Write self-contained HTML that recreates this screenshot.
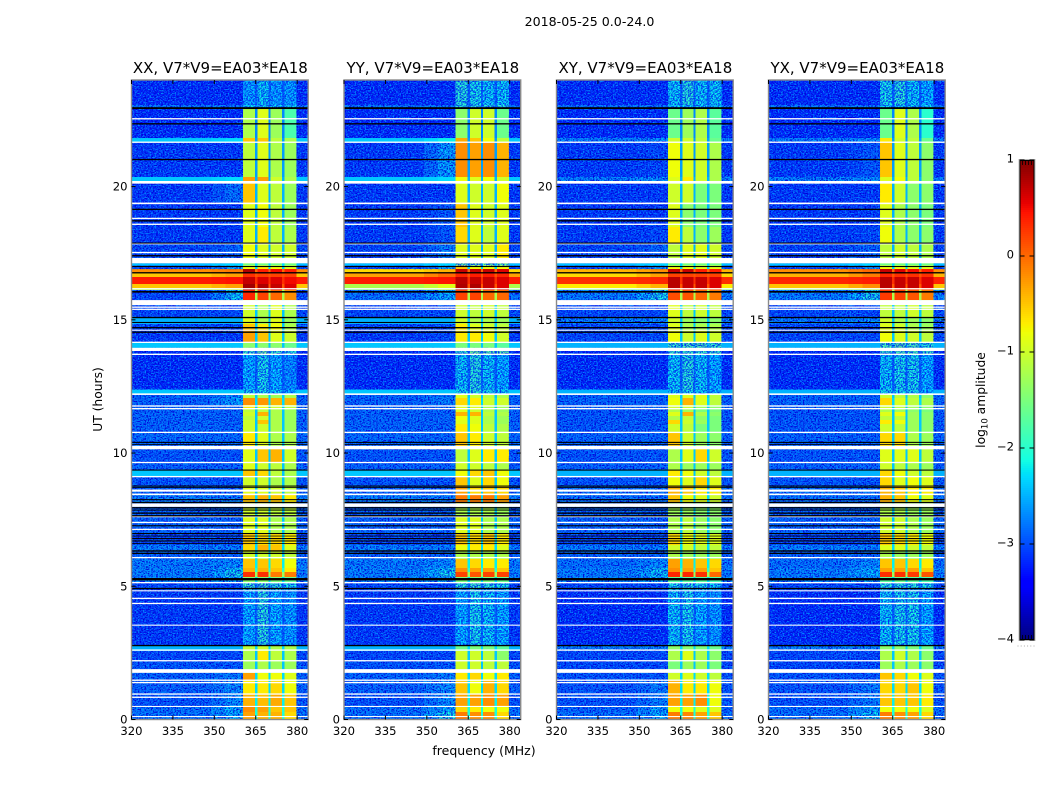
<!DOCTYPE html>
<html>
<head>
<meta charset="utf-8">
<title>2018-05-25 0.0-24.0</title>
<style>
html,body{margin:0;padding:0;background:#fff;width:1050px;height:800px;overflow:hidden}
svg{display:block}
text{font-family:"DejaVu Sans","Liberation Sans",sans-serif;fill:#000}
</style>
</head>
<body>
<svg id="fig" xmlns="http://www.w3.org/2000/svg" width="1050" height="800" viewBox="0 0 1050 800">
  <defs>
    <filter id="off-noise" x="0" y="0" width="1" height="1" color-interpolation-filters="sRGB">
      <feTurbulence type="fractalNoise" baseFrequency="0.6 0.75" numOctaves="2" seed="4" result="n"/>
      <feColorMatrix in="n" type="matrix" values="0 0 0 0 0  0 0 0 0 0  0 0 0 0 0.85  4.5 0 0 0 -1.9" result="dark"/>
      <feColorMatrix in="n" type="matrix" values="0 0 0 0 0  0 0 0 0 0.55  0 0 0 0 1  0 4.5 0 0 -2.2" result="light"/>
      <feMerge result="m"><feMergeNode in="dark"/><feMergeNode in="light"/></feMerge>
      <feComposite in="m" in2="SourceAlpha" operator="in"/>
    </filter>
    <filter id="band-noise" x="0" y="0" width="1" height="1" color-interpolation-filters="sRGB">
      <feTurbulence type="fractalNoise" baseFrequency="0.6 0.75" numOctaves="2" seed="9" result="n"/>
      <feColorMatrix in="n" type="matrix" values="0 0 0 0 0  0 0 0 0 0.2  0 0 0 0 0.95  4 0 0 0 -1.55"/>
      <feComposite in2="SourceAlpha" operator="in"/>
    </filter>
  </defs>
  <text x="589.5" y="26" font-size="12.6" text-anchor="middle">2018-05-25 0.0-24.0</text>
  <text x="0" y="0" font-size="12.3" text-anchor="middle" transform="translate(102,399.5) rotate(-90)">UT (hours)</text>
  <text x="484" y="755" font-size="12.5" text-anchor="middle">frequency (MHz)</text>
  <text x="0" y="0" font-size="12.3" text-anchor="middle" transform="translate(985,400) rotate(-90)">log<tspan font-size="8.5" dy="2.5">10</tspan><tspan dy="-2.5"> amplitude</tspan></text>
  <g id="panels"></g>
  <g id="colorbar"></g>
</svg>
<script>
// ---- chart data (log10 amplitude, frequency in MHz, time in UT hours) ----
const panelTitles = ["XX, V7*V9=EA03*EA18","YY, V7*V9=EA03*EA18","XY, V7*V9=EA03*EA18","YX, V7*V9=EA03*EA18"];
const xTicks = [320,335,350,365,380];
const yTicks = [0,5,10,15,20];
const colorbarTicks = [1,0,-1,-2,-3,-4];
const freqEdges = [320,349,354,360.4,364.8,365.6,369.7,370.4,374.6,375.5,379.7,384];
const rowEdges = [24,23.06,22.94,21.82,21.67,20.36,20.13,19.34,18.48,17.88,17.32,17.12,17.03,16.9,16.77,16.6,16.34,16.19,16.12,15.74,15.55,15.1,14.84,14.62,14.13,13.95,13.68,12.38,12.23,12.06,11.8,11.65,11.54,11.39,11.24,11.09,10.75,10.3,10.15,9.66,9.36,9.1,8.76,8.42,8.12,7.97,7.64,7,6.55,6.32,6.02,5.68,5.53,5.35,5.12,4.86,2.79,2.57,2.2,1.74,1.48,0.96,0.51,0.28,0];
const gapLevels = [-2.8,-2.7,-2.7,-2.6,-2.6,-2.5,-2.5,-2.5,-2.5,-2.5,-2.5,-2.3,-2.3,0,0.1,0.3,0.1,-0.2,-1.2,-2.4,-2.4,-2.4,-2.4,-2.4,-2.4,-2.8,-2.8,-2.6,-2.4,-2.3,-2.4,-2.4,-2.4,-2.4,-2.4,-2.4,-2.4,-2.4,-2.4,-2.4,-2.4,-2.4,-2.4,-2.3,-2.4,-2.4,-2.4,-2.3,-2.3,-2.4,-2.2,-2.0,-1.3,-2.3,-2.7,-2.8,-2.3,-2.4,-2.4,-2.3,-2.3,-2.2,-2.1,-2.1];
// flagged intervals [start hour, end hour]
const whiteFlags = [[22.52,22.57],[21.64,21.69],[20.11,20.21],[19.34,19.4],[18.78,18.83],[18.56,18.61],[17.83,17.88],[17.5,17.55],[17.12,17.32],[16.14,16.19],[15.55,15.74],[15.45,15.5],[15.37,15.42],[14.59,14.63],[14.13,14.18],[13.83,13.95],[13.68,13.73],[12.18,12.24],[11.74,11.79],[11.64,11.69],[10.75,10.8],[10.14,10.27],[9.62,9.67],[9.09,9.14],[8.55,8.63],[8.42,8.48],[7.98,8.11],[7.59,7.64],[7.37,7.42],[7.11,7.16],[6.05,6.1],[5.11,5.16],[4.81,4.85],[4.52,4.57],[4.33,4.38],[3.52,3.56],[2.58,2.63],[2.18,2.23],[1.75,1.89],[1.45,1.5],[1.36,1.41],[0.93,0.98],[0.81,0.86],[0.47,0.51],[0.09,0.13]];
const blackFlags = [[22.91,22.98],[22.33,22.38],[20.99,21.04],[19.12,19.17],[18.69,18.74],[17.86,17.9],[17.38,17.43],[16.98,17.02],[16.74,16.79],[16.02,16.08],[15.06,15.11],[14.88,14.92],[14.68,14.73],[14.51,14.56],[10.38,10.42],[10.31,10.34],[9.34,9.38],[8.74,8.78],[8.69,8.72],[8.23,8.27],[8.12,8.17],[7.92,7.97],[7.84,7.88],[7.72,7.77],[7.62,7.67],[7.25,7.29],[6.96,7],[6.87,6.9],[6.77,6.81],[6.68,6.72],[6.59,6.62],[6.3,6.35],[6.21,6.26],[5.22,5.31],[4.89,4.94],[2.75,2.8]];
// per time-row levels: [off-band, ramp, sub-band 1, sub-band 2, sub-band 3, sub-band 4]
const levelsXX = [
[-3.2,-3.2,-2.4,-2.2,-2.4,-2.4],[-2.7,-2.7,-2.2,-2.2,-2.2,-2.2],[-3.2,-3.2,-1.2,-0.9,-1.3,-1.8],[-2.4,-2.3,-0.5,-0.5,-1.1,-1.2],[-3.1,-3.1,-1.1,-0.9,-1.2,-1.3],[-2.4,-2.3,-0.3,-0.3,-1.0,-1.2],[-3.1,-2.7,-0.5,-0.9,-1.1,-1.3],[-3.1,-3.1,-0.9,-0.8,-1.1,-1.3],[-3.1,-3.1,-0.9,-0.7,-1.1,-1.2],[-3.0,-2.8,-0.8,-0.9,-1.0,-1.0],
[-3.0,-2.8,-0.8,-0.9,-1.0,-1.0],[-2.4,-2.3,-1.6,-1.6,-1.6,-1.6],[-3.0,-2.4,-0.8,-0.7,-0.8,-0.9],[-0.2,-0.1,0.8,0.4,0.5,0.4],[-0.5,-0.3,0.3,0.2,0.2,0.2],[0.4,0.45,0.7,0.6,0.6,0.5],[-0.5,-0.3,0.85,0.8,0.7,0.6],[-1.2,-1.0,0.8,0.7,0.6,0.5],[-3.0,-2.2,0.35,0.2,0.0,-0.2],[-3.0,-3.0,-1.0,-1.2,-0.9,-1.2],
[-3.0,-3.0,-1.0,-1.2,-0.9,-1.2],[-2.5,-2.5,-0.9,-1.2,-0.9,-1.3],[-3.0,-3.0,-0.5,-0.7,-0.8,-1.2],[-3.1,-3.1,-0.3,-0.5,-0.9,-1.0],[-2.4,-2.4,-1.4,-1.4,-1.4,-1.6],[-3.2,-3.2,-1.9,-1.6,-1.9,-2.0],[-3.2,-3.2,-2.3,-2.1,-2.3,-2.5],[-2.4,-2.4,-2.1,-2.1,-2.2,-2.3],[-2.8,-2.5,-1.1,-1.2,-1.3,-1.2],[-2.8,-2.4,-0.2,-0.25,-0.4,-0.4],
[-2.8,-2.8,-0.7,-0.8,-1.0,-1.1],[-2.8,-2.8,-1.1,-1.1,-1.2,-1.3],[-2.8,-2.8,-1.0,-0.4,-1.2,-1.3],[-2.8,-2.8,-1.1,-1.0,-1.2,-1.3],[-2.8,-2.8,-1.0,-0.5,-1.2,-1.3],[-2.8,-2.8,-1.0,-1.0,-1.2,-1.3],[-2.75,-2.75,-0.7,-0.9,-1.2,-1.2],[-2.75,-2.75,-0.7,-0.9,-1.2,-1.2],[-2.9,-2.9,-0.9,-0.5,-0.4,-1.0],[-2.8,-2.8,-0.9,-1.0,-1.1,-1.2],
[-2.4,-2.4,-0.5,-0.6,-1.1,-1.2],[-2.9,-2.9,-1.0,-1.0,-1.2,-1.2],[-2.8,-2.8,-0.9,-0.9,-1.0,-1.1],[-2.6,-2.6,-0.5,-0.4,-0.5,-0.7],[-2.8,-2.8,-1.0,-1.0,-1.1,-1.1],[-2.8,-2.8,-1.0,-1.0,-1.1,-1.1],[-2.8,-2.8,-0.9,-0.9,-1.2,-1.2],[-3.0,-3.0,-0.5,-0.6,-0.6,-0.7],[-2.6,-2.6,-0.6,-0.4,-0.5,-0.9],[-2.8,-2.8,-1.0,-1.0,-1.0,-1.1],
[-2.6,-2.5,-0.5,-0.5,-0.6,-0.8],[-2.6,-2.2,-0.4,-0.4,-0.5,-0.7],[-2.6,-2.1,0.3,0.3,-0.1,-0.1],[-2.6,-2.3,-1.4,-1.4,-1.5,-1.6],[-3.0,-3.0,-1.9,-1.8,-2.0,-2.1],[-3.1,-3.1,-2.3,-2.0,-2.3,-2.4],[-2.5,-2.5,-1.1,-1.0,-1.2,-1.2],[-3.0,-3.0,-1.2,-0.7,-1.1,-1.2],[-2.9,-2.9,-1.3,-1.2,-1.3,-1.3],[-2.8,-2.6,-0.3,-0.8,-0.8,-0.9],
[-2.8,-2.5,-0.7,-0.7,-0.6,-0.8],[-2.9,-2.5,-0.4,-0.45,-0.35,-0.5],[-2.7,-2.3,-0.2,-0.3,-0.5,-0.5],[-2.7,-2.3,-0.3,-0.4,-0.4,-0.6]];
const levelsYY = [
[-3.2,-3.2,-2.0,-2.1,-2.2,-2.2],[-2.7,-2.7,-2.0,-2.0,-2.0,-2.0],[-3.2,-3.2,-1.4,-1.0,-1.0,-1.6],[-2.4,-2.2,-0.35,-0.5,-0.8,-1.1],[-3.1,-2.4,-0.2,-0.3,-0.2,-0.4],[-2.4,-2.3,-0.8,-0.9,-0.8,-1.0],[-3.1,-3.1,-0.9,-1.0,-1.0,-0.8],[-3.1,-2.9,-0.5,-0.9,-1.0,-0.9],[-3.1,-2.9,-0.6,-0.9,-1.1,-0.9],[-3.0,-2.6,-0.9,-0.9,-0.9,-0.7],
[-3.0,-2.6,-0.9,-0.9,-0.9,-0.7],[-2.4,-2.3,-1.8,-1.8,-1.8,-1.8],[-3.0,-2.4,-0.5,-0.8,-0.8,-0.8],[-0.6,-0.4,0.7,0.7,0.7,0.6],[-0.3,0.0,0.35,0.4,0.4,0.35],[0.4,0.45,0.75,0.7,0.7,0.6],[-1.2,-0.9,0.8,0.8,0.7,0.6],[-1.5,-1.2,0.7,0.7,0.6,0.6],[-2.7,-2.3,0.2,0.2,0.0,0.0],[-3.0,-3.0,-1.0,-1.1,-1.0,-1.1],
[-3.0,-3.0,-1.0,-1.1,-1.0,-1.1],[-2.5,-2.5,-1.0,-1.2,-1.2,-1.3],[-3.0,-3.0,-0.7,-0.9,-1.0,-1.1],[-3.1,-3.0,-0.7,-0.7,-0.8,-1.0],[-2.4,-2.4,-1.5,-1.5,-1.5,-1.7],[-3.2,-3.2,-1.9,-1.6,-1.7,-1.7],[-3.2,-3.2,-2.2,-2.0,-2.2,-2.3],[-2.4,-2.4,-2.1,-2.0,-2.1,-2.2],[-2.8,-2.6,-0.9,-1.0,-1.1,-1.2],[-2.8,-2.6,-0.6,-0.7,-1.0,-1.0],
[-2.8,-2.8,-0.9,-0.9,-1.2,-1.3],[-2.8,-2.8,-0.9,-1.0,-1.2,-1.3],[-2.8,-2.8,-0.4,-0.4,-1.1,-1.2],[-2.8,-2.8,-0.8,-0.9,-1.2,-1.3],[-2.8,-2.8,-0.9,-0.9,-1.2,-1.3],[-2.8,-2.8,-0.7,-0.8,-1.1,-1.2],[-2.75,-2.75,-0.5,-0.7,-1.0,-1.1],[-2.75,-2.75,-0.5,-0.7,-1.0,-1.1],[-2.9,-2.9,-1.1,-0.9,-0.7,-0.7],[-2.8,-2.8,-1.0,-1.0,-1.1,-1.2],
[-2.4,-2.4,-0.8,-0.6,-0.5,-0.8],[-2.9,-2.9,-0.5,-0.9,-0.6,-0.8],[-2.8,-2.8,-0.3,-0.6,-0.5,-0.6],[-2.6,-2.6,-0.1,-0.1,-0.1,-0.3],[-2.8,-2.8,-1.0,-1.0,-1.0,-1.1],[-2.8,-2.8,-1.2,-1.2,-1.2,-1.3],[-2.8,-2.8,-0.9,-0.9,-1.2,-1.2],[-3.0,-3.0,-0.5,-0.6,-0.5,-0.7],[-2.6,-2.6,-0.8,-0.7,-0.7,-0.9],[-2.8,-2.8,-1.2,-1.2,-1.2,-1.2],
[-2.6,-2.5,-0.5,-0.6,-0.7,-0.7],[-2.6,-2.2,-0.2,-0.3,-0.3,-0.5],[-2.6,-2.1,0.2,0.1,0.2,0.2],[-2.6,-2.3,-1.5,-1.5,-1.5,-1.6],[-3.0,-3.0,-2.0,-1.9,-2.0,-2.1],[-3.1,-3.1,-2.3,-2.1,-2.2,-2.3],[-2.5,-2.5,-1.6,-1.5,-1.5,-1.7],[-3.0,-3.0,-1.0,-1.0,-1.1,-1.4],[-2.9,-2.9,-1.0,-1.0,-1.1,-1.1],[-2.8,-2.6,-0.7,-0.6,-0.8,-0.7],
[-2.8,-2.5,-0.5,-0.8,-0.4,-0.6],[-2.9,-2.5,-0.3,-0.3,-0.2,-0.3],[-2.7,-2.3,-0.6,-0.7,-0.8,-0.8],[-2.7,-2.1,-0.1,-0.2,-0.2,-0.6]];
const levelsXY = [
[-3.2,-3.2,-2.2,-2.0,-2.2,-2.2],[-2.7,-2.7,-2.2,-2.2,-2.2,-2.2],[-3.2,-3.2,-1.6,-1.3,-1.2,-1.7],[-2.6,-2.5,-1.0,-1.0,-1.1,-1.6],[-3.1,-3.0,-0.8,-0.9,-1.0,-1.2],[-2.6,-2.5,-0.9,-0.7,-1.0,-1.2],[-3.1,-3.1,-1.0,-1.0,-1.5,-1.5],[-3.1,-3.1,-0.9,-1.4,-1.5,-1.5],[-3.1,-3.0,-0.7,-1.1,-1.4,-1.3],[-3.0,-2.8,-1.1,-0.9,-0.9,-1.0],
[-3.0,-2.8,-1.1,-0.9,-0.9,-1.0],[-2.4,-2.3,-1.6,-1.6,-1.6,-1.6],[-3.0,-2.5,-0.8,-0.8,-0.9,-0.9],[-0.4,-0.2,0.7,0.7,0.4,0.4],[-0.6,-0.3,0.2,0.2,0.2,0.2],[0.3,0.35,0.75,0.7,0.7,0.6],[-0.7,-0.4,0.75,0.7,0.7,0.6],[-1.5,-1.2,0.4,0.4,0.3,0.2],[-2.6,-2.1,0.15,0.1,0.0,-0.1],[-3.0,-3.0,-0.9,-1.1,-1.0,-1.1],
[-3.0,-3.0,-0.9,-1.1,-1.0,-1.1],[-2.6,-2.5,-1.0,-1.3,-1.4,-1.4],[-3.0,-3.0,-0.9,-1.2,-1.2,-1.2],[-3.0,-3.0,-0.8,-1.0,-0.9,-1.0],[-2.5,-2.5,-1.9,-1.8,-1.8,-1.9],[-3.2,-3.2,-1.9,-1.9,-1.9,-1.9],[-3.2,-3.2,-2.2,-2.0,-2.2,-2.3],[-2.5,-2.5,-2.2,-2.1,-2.2,-2.3],[-2.8,-2.8,-0.9,-0.9,-0.9,-1.1],[-2.8,-2.8,-0.8,-0.4,-0.9,-1.1],
[-2.8,-2.8,-1.0,-1.0,-1.3,-1.4],[-2.9,-2.9,-1.2,-1.3,-1.5,-1.5],[-2.9,-2.9,-0.9,-0.4,-1.2,-1.4],[-2.9,-2.9,-1.2,-1.1,-1.4,-1.5],[-2.9,-2.9,-0.6,-1.0,-1.3,-1.5],[-2.9,-2.9,-1.0,-1.1,-1.5,-1.5],[-2.8,-2.8,-0.5,-1.0,-1.3,-1.4],[-2.8,-2.8,-0.5,-1.0,-1.3,-1.4],[-2.9,-2.9,-1.2,-0.9,-0.6,-1.0],[-2.8,-2.8,-1.2,-1.3,-1.3,-1.3],
[-2.5,-2.5,-0.7,-0.8,-1.0,-1.1],[-2.9,-2.9,-0.8,-0.9,-0.6,-0.9],[-2.7,-2.7,-0.4,-0.5,-0.7,-0.7],[-2.7,-2.7,-0.5,-0.8,-0.9,-1.0],[-2.8,-2.8,-1.3,-1.3,-1.4,-1.4],[-2.8,-2.8,-1.3,-1.3,-1.4,-1.4],[-2.8,-2.8,-1.2,-1.1,-1.3,-1.4],[-3.0,-3.0,-0.6,-0.8,-0.9,-0.9],[-2.6,-2.6,-1.0,-1.0,-1.1,-1.1],[-2.8,-2.8,-1.2,-1.3,-1.3,-1.3],
[-2.7,-2.5,-0.3,-0.4,-0.5,-0.6],[-2.6,-2.2,-0.2,-0.3,-0.3,-0.5],[-2.6,-2.2,0.35,0.35,0.3,0.0],[-2.6,-2.3,-1.7,-1.7,-1.7,-1.8],[-3.0,-3.0,-2.1,-2.0,-2.1,-2.2],[-3.2,-3.2,-2.2,-2.1,-2.3,-2.4],[-2.6,-2.6,-1.4,-1.4,-1.5,-1.6],[-3.0,-3.0,-1.2,-0.9,-1.2,-1.4],[-3.0,-3.0,-1.5,-1.3,-1.3,-1.5],[-2.9,-2.9,-1.0,-0.9,-1.0,-1.1],
[-2.9,-2.6,-0.4,-0.7,-0.7,-0.8],[-2.9,-2.6,-0.3,-0.3,-0.2,-0.8],[-2.8,-2.4,-0.8,-0.8,-0.9,-0.9],[-2.7,-2.3,-0.1,-0.15,-0.3,-0.5]];
const levelsYX = [
[-3.2,-3.2,-2.1,-2.0,-2.2,-2.3],[-2.7,-2.7,-2.2,-2.2,-2.2,-2.2],[-3.2,-3.2,-1.6,-0.9,-1.2,-2.0],[-2.6,-2.5,-0.7,-1.0,-1.1,-1.6],[-3.1,-2.9,-0.5,-0.9,-1.1,-1.4],[-2.6,-2.5,-0.9,-0.8,-1.1,-1.4],[-3.1,-3.1,-0.7,-1.0,-1.4,-1.4],[-3.1,-3.1,-0.9,-1.2,-1.4,-1.5],[-3.1,-3.0,-0.8,-1.2,-1.4,-1.4],[-3.0,-2.8,-1.1,-1.0,-1.1,-1.2],
[-3.0,-2.8,-1.1,-1.0,-1.1,-1.2],[-2.4,-2.3,-1.6,-1.6,-1.6,-1.6],[-3.0,-2.5,-0.8,-0.8,-0.9,-0.9],[-0.2,0.0,0.7,0.6,0.5,0.4],[-0.4,-0.1,0.35,0.3,0.3,0.3],[0.35,0.4,0.75,0.7,0.7,0.6],[-0.5,-0.2,0.75,0.7,0.7,0.6],[-1.4,-1.1,0.4,0.4,0.3,0.2],[-2.6,-2.1,0.25,0.2,0.1,-0.1],[-3.0,-3.0,-1.1,-1.1,-1.0,-1.1],
[-3.0,-3.0,-1.1,-1.1,-1.0,-1.1],[-2.6,-2.5,-1.0,-1.2,-1.3,-1.4],[-3.0,-3.0,-0.9,-1.0,-1.2,-1.3],[-3.0,-3.0,-0.8,-0.9,-1.0,-1.1],[-2.5,-2.5,-1.8,-1.7,-1.8,-2.0],[-3.2,-3.2,-1.9,-1.8,-1.8,-1.9],[-3.2,-3.2,-2.2,-2.1,-2.1,-2.3],[-2.5,-2.5,-2.1,-2.1,-2.1,-2.3],[-2.8,-2.8,-1.0,-1.1,-1.2,-1.4],[-2.8,-2.8,-0.6,-0.9,-1.1,-1.2],
[-2.8,-2.8,-1.0,-1.1,-1.3,-1.4],[-2.9,-2.9,-1.2,-1.3,-1.4,-1.5],[-2.9,-2.9,-0.9,-0.8,-1.3,-1.4],[-2.9,-2.9,-1.1,-1.1,-1.3,-1.4],[-2.9,-2.9,-0.7,-0.8,-1.3,-1.4],[-2.9,-2.9,-1.0,-1.1,-1.3,-1.4],[-2.8,-2.8,-0.6,-0.6,-1.2,-1.3],[-2.8,-2.8,-0.6,-0.6,-1.2,-1.3],[-2.9,-2.9,-0.9,-0.9,-0.9,-1.1],[-2.8,-2.8,-1.0,-1.1,-1.2,-1.3],
[-2.5,-2.5,-0.6,-0.8,-1.0,-1.1],[-2.9,-2.9,-0.6,-0.9,-0.8,-0.9],[-2.7,-2.7,-0.4,-0.5,-0.7,-0.7],[-2.7,-2.7,-0.4,-0.5,-0.8,-0.9],[-2.8,-2.8,-1.2,-1.2,-1.3,-1.3],[-2.8,-2.8,-1.2,-1.2,-1.3,-1.3],[-2.8,-2.8,-1.0,-1.0,-1.2,-1.3],[-3.0,-3.0,-0.5,-0.6,-0.7,-0.8],[-2.6,-2.6,-0.9,-0.9,-1.0,-1.1],[-2.8,-2.8,-1.2,-1.3,-1.3,-1.3],
[-2.7,-2.5,-0.5,-0.5,-0.6,-0.7],[-2.6,-2.3,-0.3,-0.3,-0.3,-0.5],[-2.6,-2.3,0.3,0.3,0.25,0.1],[-2.6,-2.3,-1.7,-1.6,-1.7,-1.8],[-3.0,-3.0,-2.0,-2.0,-2.0,-2.1],[-3.2,-3.2,-2.2,-2.1,-2.1,-2.3],[-2.6,-2.6,-1.4,-1.4,-1.5,-1.6],[-3.0,-3.0,-1.2,-1.0,-1.2,-1.4],[-3.0,-3.0,-1.3,-1.2,-1.3,-1.4],[-2.9,-2.9,-0.5,-0.6,-0.8,-0.9],
[-2.9,-2.6,-0.6,-0.6,-0.5,-0.8],[-2.9,-2.6,-0.5,-0.5,-0.5,-0.7],[-2.7,-2.3,-0.8,-0.8,-0.8,-0.9],[-2.7,-2.2,-0.1,-0.2,-0.3,-0.6]];
const panelLevels = [levelsXX,levelsYY,levelsXY,levelsYX];
const panelLefts = [131.5,344,556.5,768.5];

// ---- scales ----
const NS = "http://www.w3.org/2000/svg";
const plotWidth = 176.7, plotTop = 80, plotBottom = 719.5;
function xScale(freq, left){ return left + (freq-320)/64*plotWidth; }
function yScale(hour){ return plotBottom - hour/24*(plotBottom-plotTop); }
function lerpStops(stops, t){
  for(let i=1;i<stops.length;i++){
    if(t<=stops[i][0]){
      const a=stops[i-1], b=stops[i];
      return a[1]+(b[1]-a[1])*(t-a[0])/(b[0]-a[0]);
    }
  }
  return stops[stops.length-1][1];
}
const jetR=[[0,0],[0.35,0],[0.66,1],[0.89,1],[1,0.5]];
const jetG=[[0,0],[0.125,0],[0.375,1],[0.64,1],[0.91,0],[1,0]];
const jetB=[[0,0.5],[0.11,1],[0.34,1],[0.65,0],[1,0]];
function jet(level){
  const t=Math.max(0,Math.min(1,(level+4)/5));
  const c=[jetR,jetG,jetB].map(s=>Math.round(255*lerpStops(s,t)));
  return "rgb("+c.join(",")+")";
}
function mk(tag, attrs){
  const el=document.createElementNS(NS,tag);
  for(const k in attrs) el.setAttribute(k,attrs[k]);
  return el;
}

// ---- panels ----
const panelsRoot=document.getElementById("panels");
panelTitles.forEach((title,p)=>{
  const left=panelLefts[p], levels=panelLevels[p], right=left+plotWidth;
  const g=mk("g",{});
  
  
  panelsRoot.appendChild(g);
  const cells=mk("g",{"shape-rendering":"crispEdges"});
  
  
  g.appendChild(cells);
  levels.forEach((row,r)=>{
    const off=row[0], ramp=row[1], gap=gapLevels[r];
    const cols=[off,(off+ramp)/2,ramp,row[2],gap,row[3],gap,row[4],gap,row[5],off];
    const y0=yScale(rowEdges[r]), y1=yScale(rowEdges[r+1]);
    cols.forEach((lv,c)=>{
      const x0=xScale(freqEdges[c],left), x1=xScale(freqEdges[c+1],left);
      const cell=mk("rect",{x:x0,y:y0,width:x1-x0,height:y1-y0,fill:jet(lv)});
      
      
      cells.appendChild(cell);
    });
  });
  // receiver-noise texture over quiet rows
  const noiseOff=mk("g",{filter:"url(#off-noise)"});
  
  
  const noiseBand=mk("g",{filter:"url(#band-noise)"});
  
  
  levels.forEach((row,r)=>{
    const y0=yScale(rowEdges[r]), y1=yScale(rowEdges[r+1]);
    if(row[0]<=-2.6){
      [[320,360.4],[379.7,384]].forEach(span=>{
        noiseOff.appendChild(mk("rect",{x:xScale(span[0],left),y:y0,width:xScale(span[1],left)-xScale(span[0],left),height:y1-y0,fill:"#000"}));
      });
    }
    if(row[2]<=-1.8){
      noiseBand.appendChild(mk("rect",{x:xScale(360.4,left),y:y0,width:xScale(379.7,left)-xScale(360.4,left),height:y1-y0,fill:"#000"}));
    }
  });
  g.appendChild(noiseOff);
  g.appendChild(noiseBand);
  // flagged rows
  whiteFlags.forEach(f=>{
    const el=mk("rect",{x:left,y:yScale(f[1]),width:plotWidth,height:yScale(f[0])-yScale(f[1]),fill:"#fff"});
    
    
    g.appendChild(el);
  });
  blackFlags.forEach(f=>{
    const el=mk("rect",{x:left,y:yScale(f[1]),width:plotWidth,height:yScale(f[0])-yScale(f[1]),fill:"#000"});
    
    
    g.appendChild(el);
  });
  // frame
  const frame=mk("rect",{x:left,y:plotTop,width:plotWidth,height:plotBottom-plotTop,fill:"none",stroke:"#8a8a8a","stroke-width":1.4});
  
  
  g.appendChild(frame);
  // ticks
  xTicks.forEach(v=>{
    const x=xScale(v,left);
    [[plotBottom,plotBottom-4],[plotTop,plotTop+4]].forEach(s=>{
      const t=mk("line",{x1:x,x2:x,y1:s[0],y2:s[1],stroke:"#000","stroke-width":1});
      
      
      g.appendChild(t);
    });
    const lab=mk("text",{x:x,y:735,"font-size":"11.6","text-anchor":"middle"});
    
    
    lab.textContent=v;
    g.appendChild(lab);
  });
  yTicks.forEach(v=>{
    const y=yScale(v);
    [[left,left+4],[right,right-4]].forEach(s=>{
      const t=mk("line",{x1:s[0],x2:s[1],y1:y,y2:y,stroke:"#000","stroke-width":1});
      
      
      g.appendChild(t);
    });
    const lab=mk("text",{x:left-4,y:y+4,"font-size":"11.6","text-anchor":"end"});
    
    
    lab.textContent=v;
    g.appendChild(lab);
  });
  const ttl=mk("text",{x:left+plotWidth/2+0.5,y:73,"font-size":"15","text-anchor":"middle"});
  
  
  ttl.textContent=title;
  g.appendChild(ttl);
});

// ---- colorbar ----
const cb=document.getElementById("colorbar");
const cbLeft=1019.5, cbRight=1034.5, cbTop=160, cbBottom=640;
function cbY(level){ return cbBottom-(level+4)/5*(cbBottom-cbTop); }
const cbFill=mk("g",{"shape-rendering":"crispEdges"});


cb.appendChild(cbFill);
for(let i=0;i<240;i++){
  const lv=-4+5*(i+0.5)/240;
  const s=mk("rect",{x:cbLeft,y:cbY(-4+5*(i+1)/240),width:cbRight-cbLeft,height:2.1,fill:jet(lv)});
  
  
  cbFill.appendChild(s);
}
const cbFrameOuter=mk("rect",{x:cbLeft-0.5,y:cbTop-0.5,width:cbRight-cbLeft+1,height:cbBottom-cbTop+1,fill:"none",stroke:"#bbb","stroke-width":1});


cb.appendChild(cbFrameOuter);
const cbFrame=mk("rect",{x:cbLeft+0.5,y:cbTop+0.5,width:cbRight-cbLeft-1,height:cbBottom-cbTop-1,fill:"none",stroke:"#000","stroke-width":1});


cb.appendChild(cbFrame);
colorbarTicks.forEach(v=>{
  const y=cbY(v);
  [[cbLeft,cbLeft+5],[cbRight,cbRight-5]].forEach(s=>{
    const t=mk("line",{x1:s[0],x2:s[1],y1:y,y2:y,stroke:"#000","stroke-width":1});
    
    
    cb.appendChild(t);
  });
  const lab=mk("text",{x:1014,y:y+2.5,"font-size":"11.6","text-anchor":"end"});
  
  
  lab.textContent=v<0?"\u2212"+Math.abs(v):String(v);
  cb.appendChild(lab);
});
[1,-4].forEach(v=>{
  const dir=v===1?1:-1;
  for(let i=1;i<5;i++){
    const x=cbLeft+i*3;
    const t=mk("line",{x1:x,x2:x,y1:cbY(v),y2:cbY(v)+dir*5,stroke:"#000","stroke-width":0.8});
    
    
    cb.appendChild(t);
  }
});
const dots=mk("line",{x1:1017.5,x2:1035,y1:646,y2:646,stroke:"#aaa","stroke-width":1,"stroke-dasharray":"1 2.2"});


cb.appendChild(dots);
</script>
</body>
</html>
